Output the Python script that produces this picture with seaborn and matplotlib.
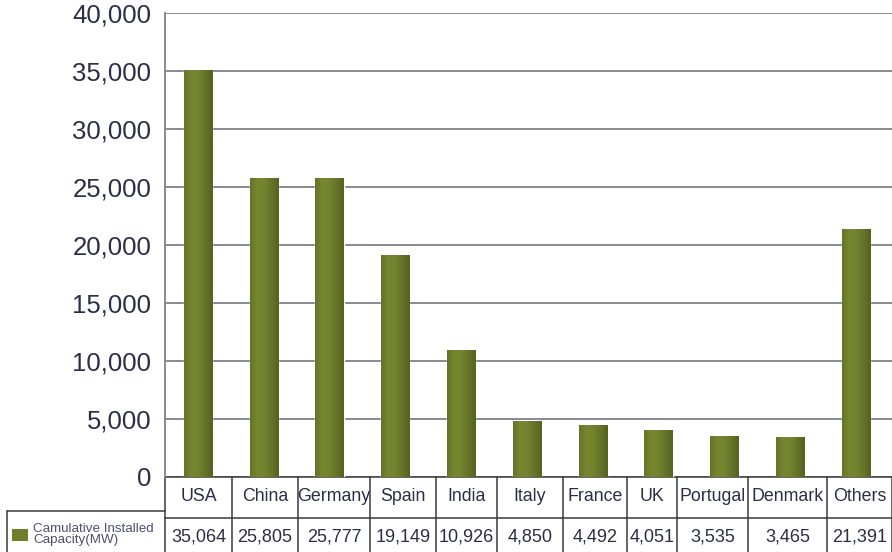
import numpy as np
import pandas as pd
import matplotlib
matplotlib.use("Agg")
import matplotlib.pyplot as plt
import matplotlib.transforms as mtransforms
from matplotlib.colors import LinearSegmentedColormap
import seaborn as sns

# Cumulative installed wind capacity by country (MW)
countries = ["USA", "China", "Germany", "Spain", "India", "Italy",
             "France", "UK", "Portugal", "Denmark", "Others"]
capacity_mw = [35064, 25805, 25777, 19149, 10926, 4850,
               4492, 4051, 3535, 3465, 21391]
value_labels = ["35,064", "25,805", "25,777", "19,149", "10,926", "4,850",
                "4,492", "4,051", "3,535", "3,465", "21,391"]
y_ticks = [0, 5000, 10000, 15000, 20000, 25000, 30000, 35000, 40000]
series_name = "Camulative Installed\nCapacity(MW)"

df = pd.DataFrame({"country": countries, "capacity": capacity_mw})

sns.set_theme(style="white")
plt.rcParams["font.family"] = ["Liberation Sans", "DejaVu Sans"]

text_color = "#2b2f45"
grid_color = "#80808c"
bar_color = "#6c7a2b"

fig = plt.figure(figsize=(8.92, 5.52), dpi=100)
ax = fig.add_axes([0.185, 0.1359, 0.815, 0.8405])

sns.barplot(data=df, x="country", y="capacity", color=bar_color,
            width=0.43, saturation=1, ax=ax, zorder=3)

# shaded cylinder-like fill on each bar
shade = LinearSegmentedColormap.from_list(
    "olive", ["#65732a", "#778730", "#73832f", "#65732a", "#56621f"])
grad = np.linspace(0, 1, 64).reshape(1, -1)
for p in ax.patches:
    x0, w, h = p.get_x(), p.get_width(), p.get_height()
    im = ax.imshow(grad, cmap=shade, aspect="auto", zorder=4,
                   extent=[x0, x0 + w, 0, h], interpolation="bicubic")
    im.set_clip_path(p)

ax.set_xlim(-0.5, 10.55)
ax.set_ylim(0, 40000)
ax.set_yticks(y_ticks)
ax.set_yticklabels([f"{v:,}" for v in y_ticks], fontsize=18.5, color=text_color)
ax.tick_params(axis="y", length=0, pad=10)
ax.set_xticks([])
ax.set_xlabel("")
ax.set_ylabel("")

ax.yaxis.grid(True, color=grid_color, linewidth=1.3, zorder=1)
ax.set_axisbelow(True)
for side in ["top", "right", "bottom"]:
    ax.spines[side].set_visible(False)
ax.spines["left"].set_color(grid_color)
ax.spines["left"].set_linewidth(1.3)

# data table underneath the plot
trans = mtransforms.blended_transform_factory(ax.transData, ax.transAxes)
col_edges = [-0.5, 0.518, 1.521, 2.615, 3.618, 4.545, 5.549,
             6.521, 7.281, 8.360, 9.561, 10.55]
row_mid = -0.0884
legend_top = -0.0733
table_bottom = -0.25
line_kw = dict(color="#3a3a3a", linewidth=1.1, clip_on=False, transform=trans)

ax.plot([col_edges[0], col_edges[-1]], [0, 0], **line_kw)
ax.plot([col_edges[0], col_edges[-1]], [row_mid, row_mid], **line_kw)
for e in col_edges:
    ax.plot([e, e], [0, table_bottom], **line_kw)

# legend cell on the left of the value row
left_cell = -2.90
ax.plot([left_cell, -0.5], [legend_top, legend_top], **line_kw)
ax.plot([left_cell, left_cell], [legend_top, table_bottom], **line_kw)
ax.add_patch(plt.Rectangle((-2.82, -0.139), 0.23, 0.027, transform=trans,
                           facecolor="#6f7f2a", edgecolor="none",
                           clip_on=False))
ax.text(-2.50, -0.124, series_name, transform=trans, fontsize=9.6,
        color="#4c5170", ha="left", va="center", linespacing=0.92)

for i, (name, lab) in enumerate(zip(countries, value_labels)):
    cx = (col_edges[i] + col_edges[i + 1]) / 2
    ax.text(cx, -0.043, name, transform=trans, fontsize=12.8,
            color=text_color, ha="center", va="center")
    ax.text(cx, -0.129, lab, transform=trans, fontsize=13,
            color=text_color, ha="center", va="center")

fig.savefig("out.png", dpi=100)
